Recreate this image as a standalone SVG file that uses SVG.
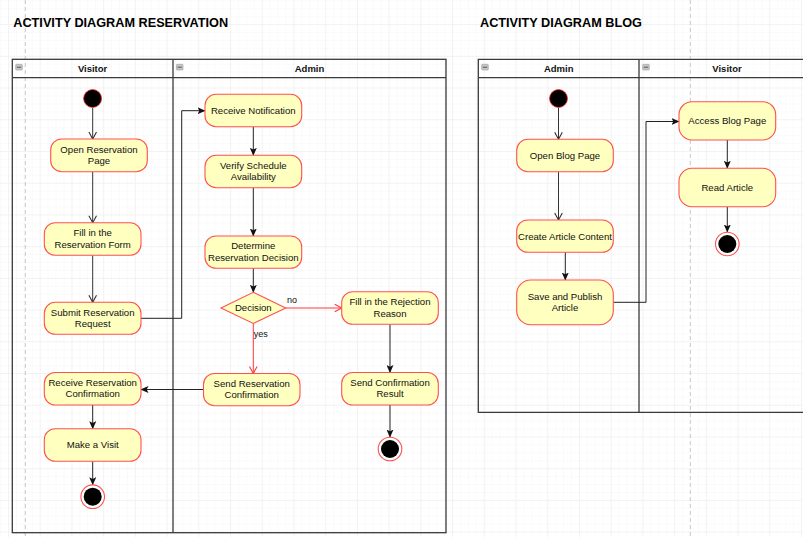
<svg xmlns="http://www.w3.org/2000/svg" width="803" height="537" viewBox="0 0 803 537">
  <style>
    .title { font-family: "Liberation Sans", Arial, sans-serif; font-size: 12.7px; font-weight: bold; fill: #000; }
    .lane { fill: none; stroke: #3a3a3a; stroke-width: 1.3; }
    .lanehdr { font-family: "Liberation Sans", Arial, sans-serif; font-size: 9.5px; font-weight: bold; fill: #111; text-anchor: middle; }
    .act { fill: #ffffc0; stroke: #ff5050; stroke-width: 1.1; }
    .lbl { font-family: "Liberation Sans", Arial, sans-serif; font-size: 9.6px; fill: #111; text-anchor: middle; }
    .elbl { font-family: "Liberation Sans", Arial, sans-serif; font-size: 9px; fill: #111; }
    .start { fill: #000; stroke: #ff3030; stroke-width: 0.8; }
    .endring { fill: #fff; stroke: #ff5050; stroke-width: 1.1; }
    .endcore { fill: #000; }
    .flow-open { fill: none; stroke: #333; stroke-width: 1; marker-end: url(#open); }
    .flow-solid { fill: none; stroke: #222; stroke-width: 1; marker-end: url(#block); }
    .flow-red { fill: none; stroke: #ff3b3b; stroke-width: 1; marker-end: url(#openRed); }
    .pagebreak { stroke: #c8c8c8; stroke-width: 1; stroke-dasharray: 4 3; }
    .collapse { fill: #c8c8c8; stroke: #9a9a9a; stroke-width: 0.6; }
  </style>
  <defs>
    <pattern id="grid" width="31.72" height="31.72" patternUnits="userSpaceOnUse" x="8" y="24.1">
      <path d="M8.43 0V31.72M16.36 0V31.72M24.29 0V31.72M0 8.43H31.72M0 16.36H31.72M0 24.29H31.72" stroke="#fafafa" stroke-width="1"/>
      <path d="M0.5 0V31.72M0 0.5H31.72" stroke="#f2f2f2" stroke-width="1"/>
    </pattern>
    <marker id="block" viewBox="0 0 8 7" refX="7.5" refY="3.5" markerWidth="8" markerHeight="7" markerUnits="userSpaceOnUse" orient="auto">
      <path d="M0,0 L8,3.5 L0,7 L1.8,3.5 z" fill="#111"/>
    </marker>
    <marker id="open" viewBox="0 0 10 10" refX="9" refY="5" markerWidth="10" markerHeight="10" markerUnits="userSpaceOnUse" orient="auto">
      <path d="M2,1.2 L9,5 L2,8.8" fill="none" stroke="#333" stroke-width="1.1"/>
    </marker>
    <marker id="openRed" viewBox="0 0 10 10" refX="9" refY="5" markerWidth="10" markerHeight="10" markerUnits="userSpaceOnUse" orient="auto">
      <path d="M2,1.2 L9,5 L2,8.8" fill="none" stroke="#ff3b3b" stroke-width="1.1"/>
    </marker>
  </defs>

  <!-- canvas background with grid -->
  <rect x="0" y="0" width="803" height="537" fill="#ffffff"/>
  <rect x="0" y="0" width="803" height="537" fill="url(#grid)"/>

  <!-- page break guides -->
  <line class="pagebreak" x1="25.3" y1="0" x2="25.3" y2="537"/>
  <line class="pagebreak" x1="690.3" y1="0" x2="690.3" y2="537"/>

  <!-- titles -->
  <text class="title" x="13.3" y="26.7">ACTIVITY DIAGRAM RESERVATION</text>
  <text class="title" x="480" y="26.7">ACTIVITY DIAGRAM BLOG</text>

  <!-- reservation swimlanes -->
  <g id="pool-reservation">
    <rect class="lane" x="12.3" y="59.3" width="433.7" height="473.4"/>
    <line class="lane" x1="12.3" y1="77.7" x2="446" y2="77.7"/>
    <line class="lane" x1="173" y1="59.3" x2="173" y2="532.7"/>
    <g id="lane-res-visitor">
      <rect class="collapse" x="15.7" y="64.3" width="6.6" height="5.7" rx="0.8"/>
      <line x1="16.8" y1="67.2" x2="21.2" y2="67.2" stroke="#555" stroke-width="1"/>
      <text class="lanehdr" x="92.6" y="71.6">Visitor</text>
    </g>
    <g id="lane-res-admin">
      <rect class="collapse" x="176.4" y="64.3" width="6.6" height="5.7" rx="0.8"/>
      <line x1="177.5" y1="67.2" x2="181.9" y2="67.2" stroke="#555" stroke-width="1"/>
      <text class="lanehdr" x="309.5" y="71.6">Admin</text>
    </g>
  </g>

  <!-- blog swimlanes -->
  <g id="pool-blog">
    <path class="lane" d="M803 59.3H478.3V412.3H803"/>
    <line class="lane" x1="478.3" y1="77.7" x2="803" y2="77.7"/>
    <line class="lane" x1="639" y1="59.3" x2="639" y2="412.3"/>
    <g id="lane-blog-admin">
      <rect class="collapse" x="481.7" y="64.3" width="6.6" height="5.7" rx="0.8"/>
      <line x1="482.8" y1="67.2" x2="487.2" y2="67.2" stroke="#555" stroke-width="1"/>
      <text class="lanehdr" x="558.7" y="71.6">Admin</text>
    </g>
    <g id="lane-blog-visitor">
      <rect class="collapse" x="642.7" y="64.3" width="6.6" height="5.7" rx="0.8"/>
      <line x1="643.8" y1="67.2" x2="648.2" y2="67.2" stroke="#555" stroke-width="1"/>
      <text class="lanehdr" x="727" y="71.6">Visitor</text>
    </g>
  </g>

  <!-- connectors -->
  <g id="connectors">
    <!-- reservation flow -->
    <path class="flow-open" d="M92.7 107.7V139"/>
    <path class="flow-open" d="M92.7 171.7V222.7"/>
    <path class="flow-open" d="M92.7 255.3V302.3"/>
    <path class="flow-solid" d="M141 318.3H181.7V110.7H205"/>
    <path class="flow-solid" d="M253.3 126.7V155.3"/>
    <path class="flow-solid" d="M253.3 187.7V236"/>
    <path class="flow-solid" d="M253.3 268.3V292.3"/>
    <path class="flow-red" d="M285.7 308H341.7"/>
    <text class="elbl" x="287" y="302.7">no</text>
    <path class="flow-red" d="M253.3 323.5V373.5"/>
    <text class="elbl" x="253.8" y="337">yes</text>
    <path class="flow-solid" d="M203.5 389.5H141"/>
    <path class="flow-solid" d="M390 324.3V372.5"/>
    <path class="flow-solid" d="M390 405V437"/>
    <path class="flow-solid" d="M92.7 405V428.7"/>
    <path class="flow-solid" d="M92.7 461.3V484.7"/>
    <!-- blog flow -->
    <path class="flow-open" d="M558.5 107.7V139.3"/>
    <path class="flow-open" d="M558.5 171.7V220"/>
    <path class="flow-solid" d="M565.3 252.3V280"/>
    <path class="flow-solid" d="M613.3 302.3H646V121.5H679"/>
    <path class="flow-solid" d="M727.3 140V168.3"/>
    <path class="flow-solid" d="M727.3 206.7V232"/>
  </g>

  <!-- reservation nodes -->
  <g id="res-start"><circle class="start" cx="92.6" cy="98.5" r="9"/></g>
  <g id="res-open-page">
    <rect class="act" x="50.7" y="139" width="96.6" height="32.7" rx="11"/>
    <text class="lbl" x="99" y="152.6">Open Reservation</text>
    <text class="lbl" x="99" y="164.1">Page</text>
  </g>
  <g id="res-fill-form">
    <rect class="act" x="44.3" y="222.7" width="96.7" height="32.6" rx="11"/>
    <text class="lbl" x="92.7" y="236.2">Fill in the</text>
    <text class="lbl" x="92.7" y="247.7">Reservation Form</text>
  </g>
  <g id="res-submit">
    <rect class="act" x="44.3" y="302.3" width="96.7" height="32" rx="11"/>
    <text class="lbl" x="92.7" y="315.5">Submit Reservation</text>
    <text class="lbl" x="92.7" y="327">Request</text>
  </g>
  <g id="res-receive-notification">
    <rect class="act" x="205" y="94.3" width="96.7" height="32.4" rx="11"/>
    <text class="lbl" x="253.3" y="113.8">Receive Notification</text>
  </g>
  <g id="res-verify">
    <rect class="act" x="205" y="155.3" width="96.7" height="32.4" rx="11"/>
    <text class="lbl" x="253.3" y="168.7">Verify Schedule</text>
    <text class="lbl" x="253.3" y="180.2">Availability</text>
  </g>
  <g id="res-determine">
    <rect class="act" x="205" y="236" width="96.7" height="32.3" rx="11"/>
    <text class="lbl" x="253.3" y="249.3">Determine</text>
    <text class="lbl" x="253.3" y="260.8">Reservation Decision</text>
  </g>
  <g id="res-decision">
    <path class="act" d="M253.3 292.3L285.7 308L253.3 323.5L221 308Z"/>
    <text class="lbl" x="253.3" y="311.4">Decision</text>
  </g>
  <g id="res-rejection">
    <rect class="act" x="341.7" y="291.7" width="96.6" height="32.6" rx="11"/>
    <text class="lbl" x="390" y="305.2">Fill in the Rejection</text>
    <text class="lbl" x="390" y="316.7">Reason</text>
  </g>
  <g id="res-send-confirmation">
    <rect class="act" x="203.5" y="373.5" width="96.5" height="32.2" rx="11"/>
    <text class="lbl" x="251.7" y="386.8">Send Reservation</text>
    <text class="lbl" x="251.7" y="398.3">Confirmation</text>
  </g>
  <g id="res-send-result">
    <rect class="act" x="341.7" y="372.5" width="96.6" height="32.5" rx="11"/>
    <text class="lbl" x="390" y="385.9">Send Confirmation</text>
    <text class="lbl" x="390" y="397.4">Result</text>
  </g>
  <g id="res-end-admin">
    <circle class="endring" cx="390" cy="449" r="11.8"/>
    <circle class="endcore" cx="390" cy="449" r="9"/>
  </g>
  <g id="res-receive-confirmation">
    <rect class="act" x="44.3" y="372.5" width="96.7" height="32.5" rx="11"/>
    <text class="lbl" x="92.7" y="385.9">Receive Reservation</text>
    <text class="lbl" x="92.7" y="397.4">Confirmation</text>
  </g>
  <g id="res-make-visit">
    <rect class="act" x="44.3" y="428.7" width="96.7" height="32.6" rx="11"/>
    <text class="lbl" x="92.7" y="448.4">Make a Visit</text>
  </g>
  <g id="res-end-visitor">
    <circle class="endring" cx="92.7" cy="496.7" r="11.8"/>
    <circle class="endcore" cx="92.7" cy="496.7" r="9"/>
  </g>

  <!-- blog nodes -->
  <g id="blog-start"><circle class="start" cx="558.5" cy="98.5" r="9"/></g>
  <g id="blog-open-page">
    <rect class="act" x="516.7" y="139.3" width="96.6" height="32.4" rx="11"/>
    <text class="lbl" x="565" y="158.8">Open Blog Page</text>
  </g>
  <g id="blog-create">
    <rect class="act" x="516.7" y="220" width="96.6" height="32.3" rx="11"/>
    <text class="lbl" x="565" y="239.5">Create Article Content</text>
  </g>
  <g id="blog-save-publish">
    <rect class="act" x="516.7" y="280" width="96.6" height="44.7" rx="14"/>
    <text class="lbl" x="565" y="299.8">Save and Publish</text>
    <text class="lbl" x="565" y="311.3">Article</text>
  </g>
  <g id="blog-access">
    <rect class="act" x="679" y="101.7" width="96.7" height="38.3" rx="13"/>
    <text class="lbl" x="727.3" y="124.2">Access Blog Page</text>
  </g>
  <g id="blog-read">
    <rect class="act" x="679" y="168.3" width="96.7" height="38.4" rx="13"/>
    <text class="lbl" x="727.3" y="190.8">Read Article</text>
  </g>
  <g id="blog-end">
    <circle class="endring" cx="727.3" cy="244" r="11.8"/>
    <circle class="endcore" cx="727.3" cy="244" r="9"/>
  </g>
</svg>
